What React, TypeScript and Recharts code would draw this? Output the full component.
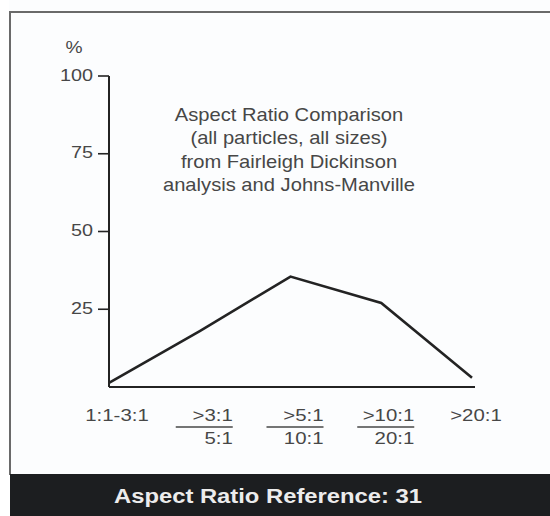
import { LineChart, Line, XAxis, YAxis } from "recharts";

// aspect ratio bands; "/" splits the fraction-style labels (top over bottom)
const RATIO_BANDS = ["1:1-3:1", ">3:1/5:1", ">5:1/10:1", ">10:1/20:1", ">20:1"];
// share of particles, %
const PERCENT = [1.3, 18, 35.5, 27, 3];
const Y_TICKS = [25, 50, 75, 100];

const TITLE_LINES = [
  "Aspect Ratio Comparison",
  "(all particles, all sizes)",
  "from Fairleigh Dickinson",
  "analysis and Johns-Manville",
];
const FOOTER = "Aspect Ratio Reference: 31";

const data = RATIO_BANDS.map((band, i) => ({ band, pct: PERCENT[i] }));

const FONT = "'Liberation Sans', Arial, Helvetica, sans-serif";
const INK = "#232323";
const TEXT = "#474747";
const STRETCH = 1.2; // the scan's type is a touch wide

function YTick({ x, y, payload }: any) {
  return (
    <text
      transform={`translate(${x},${y + 4.5}) scale(${STRETCH},1)`}
      textAnchor="end"
      fontFamily={FONT}
      fontSize={16.5}
      fill={TEXT}
    >
      {payload.value}
    </text>
  );
}

function XTick({ x, y, payload, index }: any) {
  const parts = String(payload.value).split("/");
  const style = { fontFamily: FONT, fontSize: 17, fill: TEXT };
  if (parts.length === 1) {
    const dx = index === 0 ? 8 : 4;
    return (
      <text
        transform={`translate(${x + dx},${y + 34}) scale(${STRETCH},1)`}
        textAnchor="middle"
        {...style}
      >
        {parts[0]}
      </text>
    );
  }
  const right = x + 33;
  return (
    <g>
      <text
        transform={`translate(${right},${y + 34}) scale(${STRETCH},1)`}
        textAnchor="end"
        {...style}
      >
        {parts[0]}
      </text>
      <line x1={x - 24} x2={right} y1={y + 40} y2={y + 40} stroke={TEXT} strokeWidth={1.3} />
      <text
        transform={`translate(${right},${y + 57}) scale(${STRETCH},1)`}
        textAnchor="end"
        {...style}
      >
        {parts[1]}
      </text>
    </g>
  );
}

export default function App() {
  return (
    <div
      style={{
        position: "absolute",
        left: 0,
        top: 0,
        width: 550,
        height: 516,
        background: "#ffffff",
        overflow: "hidden",
      }}
    >
      <div style={{ position: "absolute", left: 0, top: 0, background: "#fcfdfe" }}>
        <LineChart
          width={550}
          height={474}
          data={data}
          margin={{ top: 76, right: 75, bottom: 27, left: 49 }}
        >
          <XAxis
            dataKey="band"
            height={60}
            padding={{ left: 0, right: 3 }}
            axisLine={{ stroke: INK, strokeWidth: 2 }}
            tickLine={false}
            tickSize={0}
            tickMargin={0}
            interval={0}
            tick={<XTick />}
          />
          <YAxis
            width={60}
            domain={[0, 100]}
            ticks={Y_TICKS}
            axisLine={{ stroke: INK, strokeWidth: 2 }}
            tickLine={{ stroke: INK, strokeWidth: 1.6 }}
            tickSize={11}
            tickMargin={5}
            tick={<YTick />}
          />
          <Line
            type="linear"
            dataKey="pct"
            stroke={INK}
            strokeWidth={2.6}
            strokeLinejoin="miter"
            dot={false}
            activeDot={false}
            isAnimationActive={false}
          />
        </LineChart>
      </div>

      <svg
        width={550}
        height={516}
        style={{ position: "absolute", left: 0, top: 0, pointerEvents: "none" }}
      >
        {/* frame */}
        <line x1={10} x2={550} y1={12} y2={12} stroke="#6a6a6a" strokeWidth={2} />
        <line x1={10} x2={10} y1={11} y2={475} stroke="#6a6a6a" strokeWidth={2} />
        <rect x={0} y={0} width={9} height={516} fill="#ffffff" />

        <text
          transform={`translate(74,53) scale(${STRETCH},1)`}
          textAnchor="middle"
          fontFamily={FONT}
          fontSize={16}
          fill={TEXT}
        >
          %
        </text>

        {TITLE_LINES.map((t, i) => (
          <text
            key={t}
            transform={`translate(289,${121 + i * 23.3}) scale(1.12,1)`}
            textAnchor="middle"
            fontFamily={FONT}
            fontSize={18}
            fill={TEXT}
          >
            {t}
          </text>
        ))}

        <rect x={10} y={474} width={540} height={42} fill="#1c1e20" />
        <text
          transform={`translate(268,503) scale(1.19,1)`}
          textAnchor="middle"
          fontFamily={FONT}
          fontSize={20}
          fontWeight="bold"
          fill="#ececec"
        >
          {FOOTER}
        </text>
      </svg>
    </div>
  );
}
